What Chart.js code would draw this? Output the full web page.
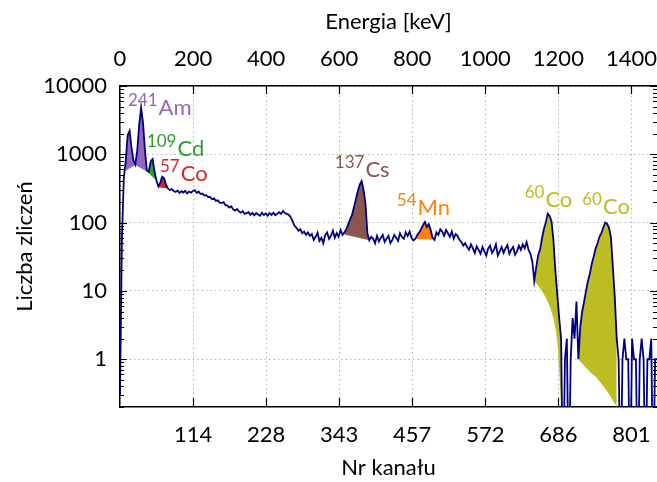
<!DOCTYPE html>
<html>
<head>
<meta charset="utf-8">
<script src="https://cdn.jsdelivr.net/npm/chart.js@4"></script>
<style>
  html, body { margin: 0; padding: 0; background: #fff; }
  #wrap { width: 657px; height: 482px; }
</style>
</head>
<body>
<div id="wrap"><canvas id="chart" width="657" height="482"></canvas></div>
<script>
// counts per channel, sampled every 3 channels (0..840)
const channelStep = 3;
const counts = [
  0.3, 60, 450, 800, 1900, 2200, 1250, 820, 710, 1150,
  2700, 4800, 2900, 1150, 580, 560, 790, 850, 560, 415,
  340, 385, 470, 445, 355, 318, 300, 310, 290, 282,
  295, 272, 288, 276, 292, 268, 285, 274, 290, 298,
  272, 286, 262, 266, 250, 252, 236, 238, 220, 226,
  208, 212, 196, 194, 200, 180, 178, 166, 174, 156,
  150, 158, 146, 140, 148, 134, 138, 142, 130, 139,
  128, 138, 131, 126, 139, 129, 136, 126, 138, 130,
  140, 128, 135, 142, 134, 148, 138, 134, 130, 120,
  105, 90, 84, 76, 80, 70, 74, 66, 72, 64,
  68, 56, 62, 71, 54, 60, 50, 66, 72, 58,
  64, 76, 60, 70, 62, 78, 66, 72, 80, 95,
  112, 130, 170, 220, 290, 360, 405, 300, 190, 70,
  55, 62, 58, 50, 64, 53, 60, 66, 52, 58,
  64, 50, 56, 66, 60, 54, 70, 62, 58, 72,
  64, 74, 60, 55, 58, 66, 72, 80, 92, 102,
  86, 95, 78, 60, 56, 72, 66, 80, 74, 64,
  78, 70, 62, 74, 58, 68, 64, 56, 52, 46,
  50, 44, 40, 48, 42, 36, 45, 40, 35, 44,
  38, 33, 42, 46, 36, 40, 48, 33, 38, 44,
  36, 42, 47, 35, 40, 44, 34, 38, 46, 40,
  48, 42, 52, 40, 35, 27, 14, 22, 33, 40,
  58, 80, 100, 135, 125, 105, 55, 20, 9, 4,
  2, 0, 1, 2, 0, 1, 4, 2, 7, 1,
  3, 5, 7, 10, 14, 18, 25, 32, 42, 50,
  62, 70, 85, 100, 96, 84, 60, 22, 8, 2,
  1, 0, 1, 2, 1, 1, 0, 2, 1, 1,
  0, 1, 2, 1, 0, 1, 1, 2, 0, 1,
  1
];
const lastChannel = 840;
const keVPerChannel = 1.75;

const energyTicks = [0, 200, 400, 600, 800, 1000, 1200, 1400];
const channelTickLabels = ['114', '228', '343', '457', '572', '686', '801'];
const countTicks = [1, 10, 100, 1000, 10000];

// background under each peak (channel, counts)
const amBaseCh = [9, 24, 42],   amBaseVal = [580, 700, 560];
const cdBaseCh = [42, 57],      cdBaseVal = [560, 415];
const co57BaseCh = [60, 75],    co57BaseVal = [330, 316];
const csBaseCh = [351, 390],    csBaseVal = [67, 55];
const mnBaseCh = [462, 489],    mnBaseVal = [58, 56];
const co60aBaseCh = [648, 654, 660, 666, 672, 678, 682, 685, 687, 690];
const co60aBaseVal = [14, 12, 10, 8, 6, 4, 2.6, 1.5, 0.7, 0.2];
const co60bBaseCh = [717, 727, 736, 744, 752, 760, 766, 771, 777];
const co60bBaseVal = [1, 0.78, 0.64, 0.56, 0.45, 0.36, 0.3, 0.25, 0.2];

const peaks = [
  { color: '#9467bd', baseCh: amBaseCh, baseVal: amBaseVal },
  { color: '#2ca02c', baseCh: cdBaseCh, baseVal: cdBaseVal },
  { color: '#d62728', baseCh: co57BaseCh, baseVal: co57BaseVal },
  { color: '#8c564b', baseCh: csBaseCh, baseVal: csBaseVal },
  { color: '#ff7f0e', baseCh: mnBaseCh, baseVal: mnBaseVal },
  { color: '#bcbd22', baseCh: co60aBaseCh, baseVal: co60aBaseVal },
  { color: '#bcbd22', baseCh: co60bBaseCh, baseVal: co60bBaseVal }
];

// isotope labels, anchored at the left end of the text baseline
const isotopeLabels = [
  { mass: '241', sym: 'Am', color: '#9467bd', ch: 12.5, cnt: 3700 },
  { mass: '109', sym: 'Cd', color: '#2ca02c', ch: 42, cnt: 930 },
  { mass: '57',  sym: 'Co', color: '#d62728', ch: 62.5, cnt: 400 },
  { mass: '137', sym: 'Cs', color: '#8c564b', ch: 336, cnt: 465 },
  { mass: '54',  sym: 'Mn', color: '#ff7f0e', ch: 433, cnt: 128 },
  { mass: '60',  sym: 'Co', color: '#bcbd22', ch: 633, cnt: 169 },
  { mass: '60',  sym: 'Co', color: '#bcbd22', ch: 723, cnt: 132 }
];

const FONT = 'Lato, "Open Sans", sans-serif';
const axisFont = { family: FONT, size: 22 };

// empty channels have no log value: draw them below the axis floor (clipped)
const points = counts.map((c, i) => ({ x: i * channelStep, y: c > 0 ? c : 0.01 }));

const datasets = [{
  data: points,
  borderColor: '#000080',
  borderWidth: 1.8,
  pointRadius: 0,
  fill: false,
  tension: 0
}];

peaks.forEach(p => {
  const from = p.baseCh[0], to = p.baseCh[p.baseCh.length - 1];
  const baseIndex = datasets.length;
  datasets.push({
    data: p.baseCh.map((x, i) => ({ x: x, y: p.baseVal[i] })),
    borderWidth: 0,
    borderColor: 'rgba(0,0,0,0)',
    pointRadius: 0,
    fill: false
  });
  datasets.push({
    data: points.filter(pt => pt.x >= from && pt.x <= to),
    borderWidth: 0,
    borderColor: 'rgba(0,0,0,0)',
    pointRadius: 0,
    backgroundColor: p.color,
    fill: { target: baseIndex, above: p.color, below: p.color }
  });
});

const tickMarks = {
  id: 'tickMarks',
  afterDraw(chart) {
    const { ctx, chartArea: a, scales } = chart;
    ctx.save();
    ctx.strokeStyle = '#000';
    ctx.lineWidth = 1.2;
    ctx.beginPath();
    [0.1, 1, 10, 100, 1000, 10000].forEach(d => {
      for (let m = 1; m < 10; m++) {
        const v = d * m;
        if (v < scales.y.min || v > scales.y.max) continue;
        const py = Math.round(scales.y.getPixelForValue(v)) + 0.5;
        const len = m === 1 ? 7 : 4;
        ctx.moveTo(a.left, py); ctx.lineTo(a.left + len, py);
        ctx.moveTo(a.right, py); ctx.lineTo(a.right - len, py);
      }
    });
    energyTicks.slice(1).forEach(e => {
      const px = Math.round(scales.x2.getPixelForValue(e)) + 0.5;
      ctx.moveTo(px, a.bottom); ctx.lineTo(px, a.bottom - 9);
      ctx.moveTo(px, a.top); ctx.lineTo(px, a.top + 8);
    });
    ctx.stroke();
    ctx.restore();
  }
};

const isotopeText = {
  id: 'isotopeText',
  afterDatasetsDraw(chart) {
    const { ctx, scales } = chart;
    ctx.save();
    ctx.textBaseline = 'alphabetic';
    ctx.textAlign = 'left';
    isotopeLabels.forEach(l => {
      const px = scales.x.getPixelForValue(l.ch);
      const py = scales.y.getPixelForValue(l.cnt);
      ctx.fillStyle = l.color;
      ctx.font = '17px ' + FONT;
      ctx.fillText(l.mass, px, py - 9);
      const w = ctx.measureText(l.mass).width;
      ctx.font = '22px ' + FONT;
      ctx.fillText(l.sym, px + w + 1, py);
    });
    ctx.restore();
  }
};

function noSidePadding(s) {
  s.paddingLeft = 0;
  s.paddingRight = 0;
}

new Chart(document.getElementById('chart'), {
  type: 'line',
  data: { datasets: datasets },
  options: {
    responsive: false,
    animation: false,
    events: [],
    layout: { padding: 0 },
    plugins: {
      legend: { display: false },
      tooltip: { enabled: false }
    },
    scales: {
      x: {
        type: 'linear',
        position: 'bottom',
        min: 0,
        max: lastChannel,
        grid: { display: false, drawTicks: false },
        border: { color: '#000', width: 1.5 },
        afterBuildTicks: s => {
          s.ticks = channelTickLabels.map((_, i) => ({ value: energyTicks[i + 1] / keVPerChannel }));
        },
        ticks: {
          autoSkip: false,
          maxRotation: 0,
          padding: 15,
          color: '#000',
          font: axisFont,
          callback: (v, i) => channelTickLabels[i]
        },
        title: { display: true, text: 'Nr kanału', color: '#000', font: axisFont, padding: { top: 0, bottom: 1 } },
        afterFit: s => { s.height = 75; noSidePadding(s); }
      },
      x2: {
        type: 'linear',
        axis: 'x',
        position: 'top',
        min: 0,
        max: lastChannel * keVPerChannel,
        grid: { display: true, drawTicks: false, color: '#b4b4b4', lineWidth: 1 },
        border: { color: '#000', width: 1.5, dash: [1.5, 3] },
        afterBuildTicks: s => {
          s.ticks = energyTicks.map(v => ({ value: v }));
        },
        ticks: {
          autoSkip: false,
          maxRotation: 0,
          padding: 14,
          color: '#000',
          font: axisFont,
          callback: v => String(v)
        },
        title: { display: true, text: 'Energia [keV]', color: '#000', font: axisFont, padding: { top: 9, bottom: 0 } },
        afterFit: s => { s.height = 86; noSidePadding(s); }
      },
      y: {
        type: 'logarithmic',
        min: 0.2,
        max: 10000,
        grid: { display: true, drawTicks: false, color: '#b4b4b4', lineWidth: 1 },
        border: { color: '#000', width: 1.5, dash: [1.5, 3] },
        afterBuildTicks: s => {
          s.ticks = countTicks.map(v => ({ value: v }));
        },
        ticks: {
          autoSkip: false,
          padding: 13,
          color: '#000',
          font: axisFont,
          callback: v => String(v)
        },
        title: { display: true, text: 'Liczba zliczeń', color: '#000', font: axisFont, padding: { top: 12, bottom: 0 } },
        afterFit: s => { s.width = 120; s.paddingTop = 0; s.paddingBottom = 0; }
      }
    }
  },
  plugins: [isotopeText, tickMarks]
});
</script>
</body>
</html>
